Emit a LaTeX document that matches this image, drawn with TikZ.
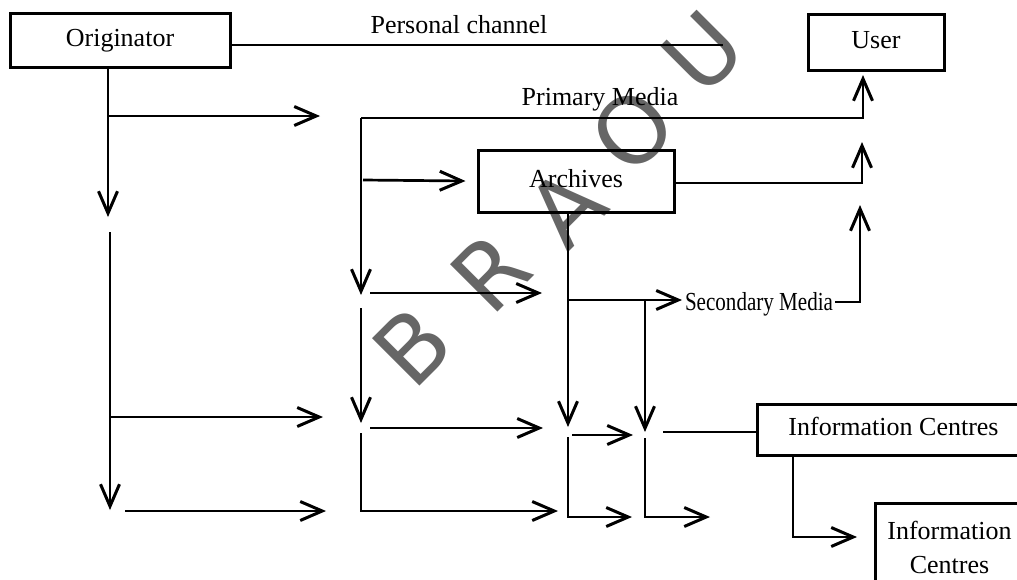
\documentclass[tikz,border=0pt]{standalone}
\usepackage{fontspec}
\setmainfont{Liberation Serif}
\newfontfamily\wmfont{DejaVu Sans}
\usetikzlibrary{arrows.meta}
\begin{document}
\begin{tikzpicture}[x=1pt,y=-1pt,
  box/.style={draw, line width=3pt, inner sep=0pt, text height=18pt, text depth=6pt,
    font=\fontsize{26}{30}\selectfont},
  twoline/.style={draw, line width=3pt, inner sep=0pt, align=center,
    font=\fontsize{26}{34}\selectfont},
  lbl/.style={inner sep=0pt, anchor=base, font=\fontsize{26}{30}\selectfont},
  wire/.style={line width=2.7pt},
  flow/.style={wire, -{Straight Barb[length=22pt,width=19pt,line width=3pt]}},
  wm/.style={font=\wmfont\fontsize{92}{92}\selectfont, text=black!60, rotate=45, inner sep=0pt}]

\useasboundingbox (0,0) rectangle (1017,579);

% stamp letters in the background
\node[wm] (wmB) at (412,346) {B};
\node[wm] (wmR) at (490,272) {R};
\node[wm] (wmA) at (566,208) {A};
\node[wm] (wmO) at (632,130) {O};
\node[wm] (wmU) at (703,52) {U};

% boxes
\node[box, minimum width=220pt, minimum height=54pt] (orig) at (120,40) {Originator};
\node[box, minimum width=136pt, minimum height=56pt] (user) at (876,42) {User};
\node[box, minimum width=196pt, minimum height=62pt] (arch) at (576,181) {Archives};
\node[box, minimum width=273pt, minimum height=51pt] (ic1) at (893.5,429.5) {Information Centres};
\node[twoline, minimum width=148pt, minimum height=88pt, anchor=north west] (ic2) at (874,502) {Information\\Centres};

% channel labels
\node[lbl] (pcl) at (459,33) {Personal channel};
\node[lbl] (pml) at (600,105) {Primary Media};
\node[lbl, xscale=0.81] (sml) at (759,310) {Secondary Media};

% junctions and free ends
\coordinate (pcEnd) at (723,45);
\coordinate (oDn1) at (108,217);
\coordinate (oJ1) at (108,116);
\coordinate (oA1) at (320,116);
\coordinate (oS2) at (110,232);
\coordinate (oDn2) at (110,510);
\coordinate (oJ2) at (110,417);
\coordinate (oA2) at (323,417);
\coordinate (oS3) at (125,511);
\coordinate (oA3) at (326,511);

\coordinate (pmJ) at (361,118);
\coordinate (mDn1) at (361,295);
\coordinate (uTip1) at (863,75);
\coordinate (mJ0) at (363,180);
\coordinate (uTip2) at (862,142);
\coordinate (mS1) at (370,293);
\coordinate (mA1) at (542,293);
\coordinate (mS2) at (361,308);
\coordinate (mDn2) at (361,423);
\coordinate (mS3) at (370,428);
\coordinate (mA3) at (543,428);
\coordinate (mS4) at (361,433);
\coordinate (mA4) at (558,511);

\coordinate (aDn) at (568,427);
\coordinate (aJ) at (568,300);
\coordinate (smTip) at (682,300);
\coordinate (sJ) at (645,300);
\coordinate (sDn) at (645,432);
\coordinate (smE) at (835,302);
\coordinate (uTip3) at (860,205);
\coordinate (aS1) at (572,435);
\coordinate (aA1) at (633,435);
\coordinate (aS2) at (568,437);
\coordinate (aA2) at (632,517);
\coordinate (sS1) at (663,432);
\coordinate (sS2) at (645,438);
\coordinate (sA2) at (710,517);
\coordinate (icJ) at (793,455);
\coordinate (icTip) at (857,537);

% personal channel
\draw[wire] ([yshift=-5pt]orig.east) -- (pcEnd);

% originator column
\draw[flow] ([xshift=-12pt]orig.south) -- (oDn1);
\draw[flow] (oJ1) -- (oA1);
\draw[flow] (oS2) -- (oDn2);
\draw[flow] (oJ2) -- (oA2);
\draw[flow] (oS3) -- (oA3);

% primary media column
\draw[flow] (pmJ) -- (mDn1);
\draw[flow] (pmJ) -| (uTip1);
\draw[flow] (mJ0) -- ([xshift=-11pt]arch.west);
\draw[flow] ([yshift=-2pt]arch.east) -| (uTip2);
\draw[flow] (mS1) -- (mA1);
\draw[flow] (mS2) -- (mDn2);
\draw[flow] (mS3) -- (mA3);
\draw[flow] (mS4) |- (mA4);

% archives column and secondary media
\draw[flow] ([xshift=-8pt]arch.south) -- (aDn);
\draw[flow] (aJ) -- (smTip);
\draw[flow] (sJ) -- (sDn);
\draw[flow] (smE) -| (uTip3);
\draw[flow] (aS1) -- (aA1);
\draw[flow] (aS2) |- (aA2);
\draw[wire] (sS1) -- ([yshift=-2.5pt]ic1.west);
\draw[flow] (sS2) |- (sA2);

% information centres
\draw[flow] (icJ) |- (icTip);
\end{tikzpicture}
\end{document}
